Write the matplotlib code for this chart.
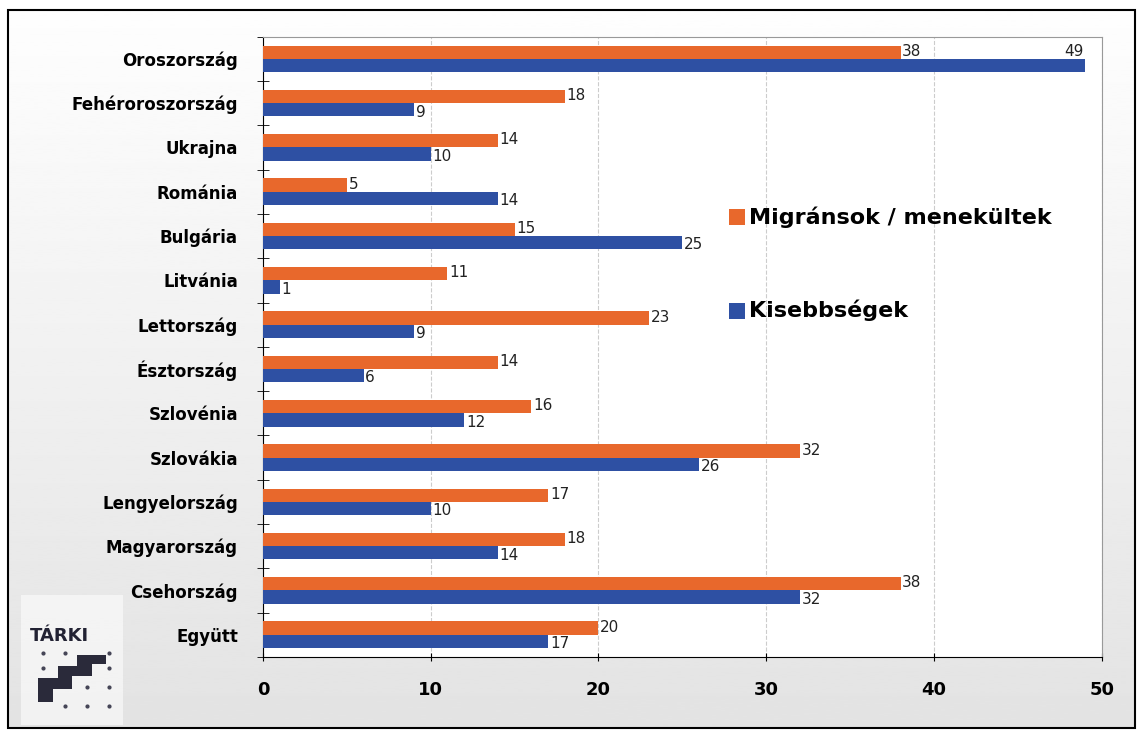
import numpy as np
import matplotlib.pyplot as plt
from matplotlib.patches import Rectangle

countries = ['Oroszország', 'Fehéroroszország', 'Ukrajna', 'Románia', 'Bulgária',
             'Litvánia', 'Lettország', 'Észtország', 'Szlovénia', 'Szlovákia',
             'Lengyelország', 'Magyarország', 'Csehország', 'Együtt']
migrans = [38, 18, 14, 5, 15, 11, 23, 14, 16, 32, 17, 18, 38, 20]
kisebbseg = [49, 9, 10, 14, 25, 1, 9, 6, 12, 26, 10, 14, 32, 17]

orange = '#E8682C'
blue = '#2E50A3'

fig = plt.figure(figsize=(11.43, 7.34), dpi=100)

# soft grey backdrop inside a thin black frame, white outside it
bg = fig.add_axes([0, 0, 1, 1], zorder=-10)
grad = np.linspace(0.995, 0.89, 256).reshape(-1, 1)
bg.imshow(grad, cmap='gray', vmin=0, vmax=1, aspect='auto',
          extent=[0.007, 0.993, 0.008, 0.986])
bg.set_xlim(0, 1)
bg.set_ylim(0, 1)
bg.axis('off')
bg.add_patch(Rectangle((0.007, 0.008), 0.986, 0.978, facecolor='none',
                       edgecolor='black', linewidth=1.5))
# lighter patch behind the logo
bg.add_patch(Rectangle((0.018, 0.012), 0.09, 0.178, facecolor='white',
                       edgecolor='none', alpha=0.55))

ax = fig.add_axes([0.230, 0.105, 0.734, 0.845])
n = len(countries)
y = np.arange(n)[::-1]
h = 0.3
ax.barh(y + h / 2, migrans, height=h, color=orange, zorder=3)
ax.barh(y - h / 2, kisebbseg, height=h, color=blue, zorder=3)

for yi, m, k in zip(y, migrans, kisebbseg):
    ax.text(m + 0.1, yi + h / 2 + 0.02, str(m), va='center', ha='left', fontsize=11,
            color='#222222', zorder=4)
    if k > 45:
        ax.text(k - 0.1, yi + h / 2 + 0.02, str(k), va='center', ha='right', fontsize=11,
                color='#222222', zorder=4)
    else:
        ax.text(k + 0.1, yi - h / 2 - 0.05, str(k), va='center', ha='left', fontsize=11,
                color='#222222', zorder=4)

ax.set_xlim(0, 50)
ax.set_ylim(-0.5, n - 0.5)
ax.set_xticks([0, 10, 20, 30, 40, 50])
ax.tick_params(axis='x', labelsize=13, length=6, direction='inout', pad=14)
for lab in ax.get_xticklabels():
    lab.set_fontweight('bold')
ax.set_yticks(y)
ax.set_yticklabels(countries, fontsize=12, fontweight='bold')
ax.tick_params(axis='y', length=0, pad=18)
ax.set_yticks(np.arange(n + 1) - 0.5, minor=True)
ax.tick_params(axis='y', which='minor', length=8, direction='inout')
ax.xaxis.grid(True, linestyle='--', color='#cccccc', linewidth=0.8, zorder=0)
ax.set_axisbelow(True)
ax.set_facecolor('white')
for s in ['top', 'right']:
    ax.spines[s].set_color('#999999')
ax.spines['left'].set_color('black')
ax.spines['bottom'].set_color('black')

# legend
fig.patches.append(Rectangle((0.638, 0.693), 0.014, 0.022, facecolor=orange,
                             transform=fig.transFigure, figure=fig, zorder=5))
fig.text(0.655, 0.704, 'Migránsok / menekültek', fontsize=16, fontweight='bold',
         va='center', ha='left', zorder=5)
fig.patches.append(Rectangle((0.638, 0.565), 0.014, 0.022, facecolor=blue,
                             transform=fig.transFigure, figure=fig, zorder=5))
fig.text(0.655, 0.577, 'Kisebbségek', fontsize=16, fontweight='bold',
         va='center', ha='left', zorder=5)

# TÁRKI logo: name, staircase and dot grid
logo = fig.add_axes([0.025, 0.025, 0.085, 0.155], zorder=5)
logo.set_xlim(0, 4)
logo.set_ylim(0, 6)
logo.axis('off')
logo.text(0.05, 4.2, 'TÁRKI', fontsize=13, fontweight='bold', color='#222233',
          ha='left', va='center')
dark = '#2a2a3a'
for rx, ry, rw, rh in [(0.4, 0.7, 0.6, 1.3), (0.4, 1.4, 1.4, 0.6),
                       (1.2, 1.4, 0.6, 1.2), (1.2, 2.1, 1.4, 0.5),
                       (2.0, 2.1, 0.6, 1.1), (2.0, 2.7, 1.2, 0.5)]:
    logo.add_patch(Rectangle((rx, ry), rw, rh, facecolor=dark, edgecolor='none'))
dx = [0.6, 1.5, 2.4, 3.3]
dy = [0.5, 1.5, 2.5, 3.3]
pts = [(a, b) for a in dx for b in dy
       if not ((a == 0.6 and b in (0.5, 1.5)) or (a == 1.5 and b in (1.5, 2.5))
               or (a == 2.4 and b in (2.5, 3.3)))]
logo.scatter([p[0] for p in pts], [p[1] for p in pts], s=4, color='#444455')

fig.savefig('out.png', dpi=100)
